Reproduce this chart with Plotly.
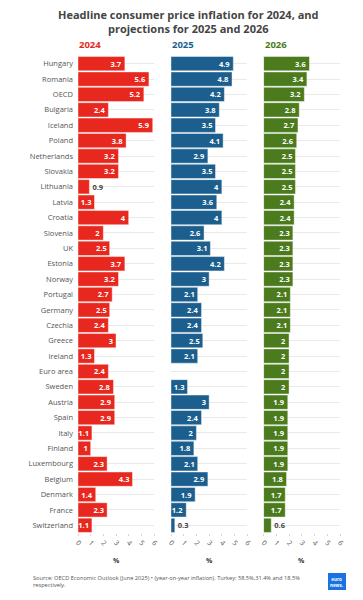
import plotly.graph_objects as go

countries = ["Hungary","Romania","OECD","Bulgaria","Iceland","Poland","Netherlands","Slovakia","Lithuania","Latvia","Croatia","Slovenia","UK","Estonia","Norway","Portugal","Germany","Czechia","Greece","Ireland","Euro area","Sweden","Austria","Spain","Italy","Finland","Luxembourg","Belgium","Denmark","France","Switzerland"]
v2024 = [3.7,5.6,5.2,2.4,5.9,3.8,3.2,3.2,0.9,1.3,4,2,2.5,3.7,3.2,2.7,2.5,2.4,3,1.3,2.4,2.8,2.9,2.9,1.1,1,2.3,4.3,1.4,2.3,1.1]
v2025 = [4.9,4.8,4.2,3.8,3.5,4.1,2.9,3.5,4,3.6,4,2.6,3.1,4.2,3,2.1,2.4,2.4,2.5,2.1,None,1.3,3,2.4,2,1.8,2.1,2.9,1.9,1.2,0.3]
v2026 = [3.6,3.4,3.2,2.8,2.7,2.6,2.5,2.5,2.5,2.4,2.4,2.3,2.3,2.3,2.3,2.1,2.1,2.1,2,2,2,2,1.9,1.9,1.9,1.9,1.9,1.8,1.7,1.7,0.6]
years = ["2024","2025","2026"]
colors = ["#e8281f","#1c5f8e","#4b7b1d"]
series = [v2024, v2025, v2026]
ticks = [0,1,2,3,4,5,6]
W, H = 363, 600
domains = [(78,154),(171,247.3),(263.6,340)]
TOP, BOTTOM = 56, 533
FONT = "Open Sans"
fig = go.Figure()
ydomain = [1-BOTTOM/H,1-TOP/H]
for i,(vals,col,yr) in enumerate(zip(series,colors,years)):
    n = "" if i==0 else str(i+1)
    fig.add_trace(go.Bar(
        y=countries, x=vals, orientation="h", xaxis="x"+n, yaxis="y"+n, name=yr,
        marker=dict(color=col, line=dict(color="rgba(255,255,255,0.55)", width=0.8)),
        text=[("" if v is None else f"{v:g}") for v in vals],
        textposition=["outside" if (v is not None and v<1) else "inside" for v in vals],
        insidetextanchor="end", constraintext="none", cliponaxis=False,
        textangle=0,
        textfont=dict(family=FONT,size=7.5,weight=700,
                      color=["#444444" if (v is not None and v<1) else "white" for v in vals]),
        hoverinfo="skip", showlegend=False))
    d = domains[i]
    fig.layout["xaxis"+n] = dict(domain=[d[0]/W,d[1]/W], range=[0,6], tickvals=ticks, ticktext=[str(t) for t in ticks],
        tickangle=45, ticks="outside", ticklen=2, tickcolor="#d5d5d5", tickfont=dict(family=FONT,size=7,color="#555555"),
        showgrid=False, showline=False, zeroline=False, anchor="y"+n, fixedrange=True, automargin=False)
    fig.layout["yaxis"+n] = dict(domain=ydomain, autorange="reversed", showgrid=True, gridcolor="#e9e9e9", gridwidth=1,
        automargin=False, anchor="x"+n, showticklabels=(i==0), ticks="", ticklabelstandoff=4, showline=False, zeroline=False,
        fixedrange=True, tickmode="array", tickvals=countries, tickfont=dict(family=FONT,size=7.5,color="#555555"))
    fig.add_annotation(xref="paper",yref="paper",x=d[0]/W,y=1-45/H,text=f"<b>{yr}</b>",showarrow=False,xanchor="left",yanchor="middle",
        xshift=-1,font=dict(family=FONT,size=9.5,color=col))
    fig.add_annotation(xref="paper",yref="paper",x=(d[0]+38)/W,y=1-560/H,text="<b>%</b>",showarrow=False,xanchor="center",yanchor="middle",
        font=dict(family=FONT,size=7,color="#333333"))
fig.update_layout(
    width=W,height=H,autosize=False,margin=dict(l=0,r=0,t=0,b=0),paper_bgcolor="white",plot_bgcolor="white",
    barmode="overlay",bargap=0.07,
)
fig.add_annotation(xref="paper",yref="paper",x=188/W,y=1-21/H,
    text="<b>Headline consumer price inflation for 2024, and<br>projections for 2025 and 2026</b>",showarrow=False,xanchor="center",yanchor="middle",align="center",
    font=dict(family=FONT,size=11,color="#444444"))
fig.add_annotation(xref="paper",yref="paper",x=31/W,y=1-581/H,
    text="Source: OECD Economic Outlook (June 2025) • (year-on-year inflation). Turkey: 58.5%,31.4% and 18.5%<br>respectively.",showarrow=False,xanchor="left",yanchor="middle",align="left",
    font=dict(family=FONT,size=5.65,color="#555555"))
fig.add_shape(type="rect",xref="paper",yref="paper",x0=328/W,x1=346/W,y0=1-590/H,y1=1-573/H,fillcolor="#1a73e0",line_width=0)
fig.add_annotation(xref="paper",yref="paper",x=337/W,y=1-581.5/H,text="<b>euro<br>news.</b>",showarrow=False,xanchor="center",yanchor="middle",align="center",
    font=dict(family=FONT,size=4.5,color="white"))
fig.write_html("out.html", config=dict(displayModeBar=False,staticPlot=True),
    post_script="document.body.style.margin='0';document.body.style.overflow='hidden';")
